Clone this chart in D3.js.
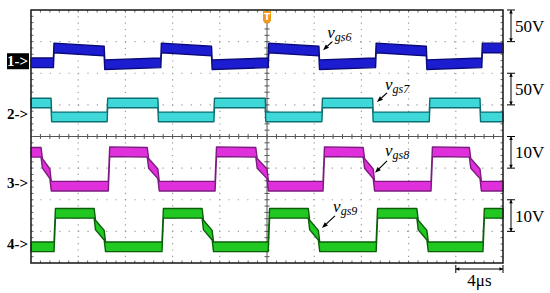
<!DOCTYPE html>
<html>
<head>
<meta charset="utf-8">
<script src="https://cdn.jsdelivr.net/npm/d3@7"></script>
<style>
  html, body { margin: 0; padding: 0; background: #fff; }
  svg { display: block; }
  svg text { font-family: 'Liberation Serif', serif; }
</style>
</head>
<body>
<div class="svg-container"></div>
<script>
// time axis: 10 div x 4us, vertical: 8 div
const timeDomain = [0, 40];
const divDomain = [-4, 4];

// channel 1 (vgs6) - edges in us, levels in div
const ch1Rise = [1.9, 11.0, 20.1, 29.2, 38.2];
const ch1Fall = [6.2, 15.3, 24.4, 33.5];
const ch1High = [2.80, 2.70];
const ch1Low = [2.27, 2.33];

// channel 2 (vgs7)
const ch2Rise = [6.45, 15.5, 24.65, 33.75];
const ch2Fall = [1.7, 10.75, 19.85, 28.95, 38.05];
const ch2High = [1.06, 1.06];
const ch2Low = [0.62, 0.62];

// channel 3 (vgs8) - falling edges have a plateau step [start, end]
const ch3Rise = [6.55, 15.6, 24.75, 33.9];
const ch3Fall = [[0.85, 1.6], [9.85, 10.75], [19.05, 20.0], [28.15, 29.0], [37.15, 38.05]];
const ch3High = [-0.48, -0.50];
const ch3Low = [-1.57, -1.57];
const ch3Step = [-0.85, -1.18];

// channel 4 (vgs9)
const ch4Rise = [1.95, 11.1, 20.1, 29.25, 38.3];
const ch4Fall = [[5.35, 6.2], [14.5, 15.35], [23.5, 24.35], [32.7, 33.55]];
const ch4High = [-2.43, -2.43];
const ch4Low = [-3.49, -3.49];
const ch4Step = [-2.80, -3.12];

const channelNames = ['1', '2', '3', '4'];
const markerLevels = [2.38, 0.72, -1.47, -3.40];
const scaleLabels = ['50V', '50V', '10V', '10V'];
const scaleBars = [[4, 3], [2, 1], [0, -1], [-2, -3]];
const traceLabels = ['gs6', 'gs7', 'gs8', 'gs9'];
const labelPos = [[25.1, 3.11], [30.0, 1.47], [30.0, -0.62], [25.6, -2.39]];
const arrowFrom = [[25.5, 2.99], [30.17, 1.38], [30.17, -0.77], [25.76, -2.51]];
const arrowTo = [[24.75, 2.73], [29.32, 1.09], [29.15, -1.15], [24.66, -2.89]];
const timeScaleLabel = '4\u03bcs';
const timeScaleBar = [36, 40];

const channels = [
    {rise: ch1Rise, fall: ch1Fall, high: ch1High, low: ch1Low, startHigh: false, tr: 0.05,
     fill: '#1c1cd0', edge: '#0a0a78'},
    {rise: ch2Rise, fall: ch2Fall, high: ch2High, low: ch2Low, startHigh: true, tr: 0.05,
     fill: '#3fd8d8', edge: '#0b6f73'},
    {rise: ch3Rise, fall: ch3Fall, high: ch3High, low: ch3Low, step: ch3Step, startHigh: true, tr: 0.12,
     fill: '#e030dc', edge: '#7d1a80'},
    {rise: ch4Rise, fall: ch4Fall, high: ch4High, low: ch4Low, step: ch4Step, startHigh: false, tr: 0.12,
     fill: '#22c822', edge: '#0a5e0a'}
];

const serif = 'Liberation Serif';

var W = 550, H = 293,
    margin = {top: 10, right: 47, bottom: 30, left: 31},
    width = W - margin.left - margin.right,
    height = H - margin.top - margin.bottom;

var svg = d3.select('.svg-container').append('svg')
    .attr('width', W).attr('height', H);

var x = d3.scaleLinear().domain(timeDomain).range([margin.left, margin.left + width]),
    y = d3.scaleLinear().domain(divDomain).range([margin.top + height, margin.top]);

// grid
var grid = svg.append('g').attr('class', 'grid');
grid.selectAll('.vgrid')
    .data(d3.range(4, 40, 4).filter(d => d !== 20)).enter().append('line')
    .attr('x1', d => x(d)).attr('x2', d => x(d))
    .attr('y1', y(4)).attr('y2', y(-4))
    .attr('stroke', '#9a9a9a').attr('stroke-width', 1.2)
    .attr('stroke-dasharray', '1.2,5.1');
grid.selectAll('.hgrid')
    .data(d3.range(-3, 4, 1).filter(d => d !== 0)).enter().append('line')
    .attr('y1', d => y(d)).attr('y2', d => y(d))
    .attr('x1', x(0)).attr('x2', x(40))
    .attr('stroke', '#9a9a9a').attr('stroke-width', 1.2)
    .attr('stroke-dasharray', '1.2,8.2');

// center cross with minor ticks
grid.append('line').attr('x1', x(20)).attr('x2', x(20)).attr('y1', y(4)).attr('y2', y(-4))
    .attr('stroke', '#555').attr('stroke-width', 1);
grid.append('line').attr('x1', x(0)).attr('x2', x(40)).attr('y1', y(0)).attr('y2', y(0))
    .attr('stroke', '#555').attr('stroke-width', 1);
grid.selectAll('.htick').data(d3.range(0.8, 40, 0.8)).enter().append('line')
    .attr('x1', d => x(d)).attr('x2', d => x(d))
    .attr('y1', y(0) - 2.5).attr('y2', y(0) + 2.5)
    .attr('stroke', '#555').attr('stroke-width', 1);
grid.selectAll('.vtick').data(d3.range(-3.8, 4, 0.2)).enter().append('line')
    .attr('y1', d => y(d)).attr('y2', d => y(d))
    .attr('x1', x(20) - 2.5).attr('x2', x(20) + 2.5)
    .attr('stroke', '#555').attr('stroke-width', 1);
// border ticks
grid.selectAll('.ttick').data(d3.range(0.8, 40, 0.8)).enter().append('line')
    .attr('x1', d => x(d)).attr('x2', d => x(d))
    .attr('y1', y(4)).attr('y2', y(4) + 2.5)
    .attr('stroke', '#666').attr('stroke-width', 1);
grid.selectAll('.btick').data(d3.range(0.8, 40, 0.8)).enter().append('line')
    .attr('x1', d => x(d)).attr('x2', d => x(d))
    .attr('y1', y(-4)).attr('y2', y(-4) - 2.5)
    .attr('stroke', '#666').attr('stroke-width', 1);
grid.selectAll('.ltick').data(d3.range(-3.8, 4, 0.2)).enter().append('line')
    .attr('y1', d => y(d)).attr('y2', d => y(d))
    .attr('x1', x(0)).attr('x2', x(0) + 2.5)
    .attr('stroke', '#666').attr('stroke-width', 1);
grid.selectAll('.rtick').data(d3.range(-3.8, 4, 0.2)).enter().append('line')
    .attr('y1', d => y(d)).attr('y2', d => y(d))
    .attr('x1', x(40)).attr('x2', x(40) - 2.5)
    .attr('stroke', '#666').attr('stroke-width', 1);

// build trace points from edges
function buildTrace(ch) {
    var ev = [];
    ch.rise.forEach(function (t) { ev.push({t: t, type: 'r'}); });
    ch.fall.forEach(function (f) { ev.push({t: Array.isArray(f) ? f[0] : f, f: f, type: 'f'}); });
    ev.sort(function (a, b) { return a.t - b.t; });
    var pts = [], cur = ch.startHigh, tPrev = timeDomain[0], first = true;
    ev.forEach(function (e) {
        var L = cur ? ch.high : ch.low;
        pts.push([tPrev, first ? L[1] : L[0]]);
        pts.push([e.t, L[1]]);
        if (e.type === 'r') {
            tPrev = e.t + ch.tr; cur = true;
        } else if (Array.isArray(e.f)) {
            pts.push([e.t + ch.tr, ch.step[0]]);
            pts.push([e.f[1], ch.step[1]]);
            tPrev = e.f[1] + ch.tr; cur = false;
        } else {
            tPrev = e.t + ch.tr; cur = false;
        }
        first = false;
    });
    var L = cur ? ch.high : ch.low;
    pts.push([tPrev, L[0]]);
    pts.push([timeDomain[1], L[0]]);
    return pts;
}

var band = 4.8;
var area = d3.area()
    .x(d => x(d[0]))
    .y0(d => y(d[1]) + band)
    .y1(d => y(d[1]) - band);

channels.forEach(function (ch) {
    var pts = buildTrace(ch);
    svg.append('path').datum(pts).attr('class', 'trace').attr('d', area)
        .attr('fill', ch.fill).attr('stroke', ch.edge).attr('stroke-width', 1.4)
        .attr('stroke-linejoin', 'round');
});

// frame
svg.append('rect')
    .attr('x', x(0)).attr('y', y(4))
    .attr('width', x(40) - x(0)).attr('height', y(-4) - y(4))
    .attr('fill', 'none').attr('stroke', '#222').attr('stroke-width', 1.6);

// trigger marker
var tg = svg.append('g').attr('transform', 'translate(' + x(20) + ',' + (y(4) + 1) + ')');
tg.append('path').attr('d', 'M-4,0 L4,0 L4,10 L0,13 L-4,10 Z').attr('fill', '#f39a1a');
tg.append('text').attr('x', 0).attr('y', 9).attr('text-anchor', 'middle')
    .attr('fill', '#fff').style('font-family', 'DejaVu Sans')
    .style('font-size', '9px').style('font-weight', 'bold').text('T');

// channel markers
channelNames.forEach(function (n, i) {
    var yy = y(markerLevels[i]);
    if (i === 0) {
        svg.append('rect').attr('x', 7).attr('y', yy - 8).attr('width', 22).attr('height', 16)
            .attr('fill', '#000');
    }
    svg.append('text').attr('x', 28).attr('y', yy + 5).attr('text-anchor', 'end')
        .attr('fill', i === 0 ? '#fff' : '#000')
        .style('font-family', serif)
        .style('font-size', '15px').style('font-weight', 'bold')
        .text(n + '->');
});

// volts/div scale bars
function arrowBar(g, x1, y1, x2, y2, vertical) {
    g.append('line').attr('x1', x1).attr('y1', y1).attr('x2', x2).attr('y2', y2)
        .attr('stroke', '#000').attr('stroke-width', 1);
    var a = 3.5, b = 1.8;
    if (vertical) {
        g.append('path').attr('d', `M${x1},${y1} L${x1 - b},${y1 + a} L${x1 + b},${y1 + a} Z`).attr('fill', '#000');
        g.append('path').attr('d', `M${x2},${y2} L${x2 - b},${y2 - a} L${x2 + b},${y2 - a} Z`).attr('fill', '#000');
        g.append('line').attr('x1', x1 - 4).attr('x2', x1 + 4).attr('y1', y1).attr('y2', y1).attr('stroke', '#000');
        g.append('line').attr('x1', x2 - 4).attr('x2', x2 + 4).attr('y1', y2).attr('y2', y2).attr('stroke', '#000');
    } else {
        g.append('path').attr('d', `M${x1},${y1} L${x1 + a},${y1 - b} L${x1 + a},${y1 + b} Z`).attr('fill', '#000');
        g.append('path').attr('d', `M${x2},${y2} L${x2 - a},${y2 - b} L${x2 - a},${y2 + b} Z`).attr('fill', '#000');
        g.append('line').attr('x1', x1).attr('x2', x1).attr('y1', y1 - 4).attr('y2', y1 + 4).attr('stroke', '#000');
        g.append('line').attr('x1', x2).attr('x2', x2).attr('y1', y2 - 4).attr('y2', y2 + 4).attr('stroke', '#000');
    }
}
var sg = svg.append('g').attr('class', 'scales');
scaleBars.forEach(function (b, i) {
    var bx = x(40) + 8;
    arrowBar(sg, bx, y(b[0]), bx, y(b[1]), true);
    sg.append('text').attr('x', bx + 4).attr('y', (y(b[0]) + y(b[1])) / 2 + 6)
        .style('font-family', serif)
        .style('font-size', '17px').text(scaleLabels[i]);
});
var by = y(-4) + 6;
arrowBar(sg, x(timeScaleBar[0]), by, x(timeScaleBar[1]), by, false);
sg.append('text').attr('x', (x(timeScaleBar[0]) + x(timeScaleBar[1])) / 2).attr('y', by + 17)
    .attr('text-anchor', 'middle').style('font-family', serif)
    .style('font-size', '17px').text(timeScaleLabel);

// trace annotations
var ag = svg.append('g').attr('class', 'annot');
traceLabels.forEach(function (s, i) {
    var t = ag.append('text').attr('x', x(labelPos[i][0])).attr('y', y(labelPos[i][1]))
        .style('font-family', serif)
        .style('font-style', 'italic').style('font-size', '17px');
    t.append('tspan').text('v');
    t.append('tspan').attr('dy', 3).style('font-size', '12px').text(s);
    var x1 = x(arrowFrom[i][0]), y1 = y(arrowFrom[i][1]),
        x2 = x(arrowTo[i][0]), y2 = y(arrowTo[i][1]);
    var ang = Math.atan2(y2 - y1, x2 - x1), L = 6, w = 2.3;
    var bx2 = x2 - L * Math.cos(ang), by2 = y2 - L * Math.sin(ang);
    ag.append('line').attr('x1', x1).attr('y1', y1).attr('x2', bx2).attr('y2', by2)
        .attr('stroke', '#000').attr('stroke-width', 1.2);
    ag.append('path').attr('d', `M${x2},${y2} L${bx2 - w * Math.sin(ang)},${by2 + w * Math.cos(ang)} L${bx2 + w * Math.sin(ang)},${by2 - w * Math.cos(ang)} Z`)
        .attr('fill', '#000');
});
</script>
</body>
</html>
